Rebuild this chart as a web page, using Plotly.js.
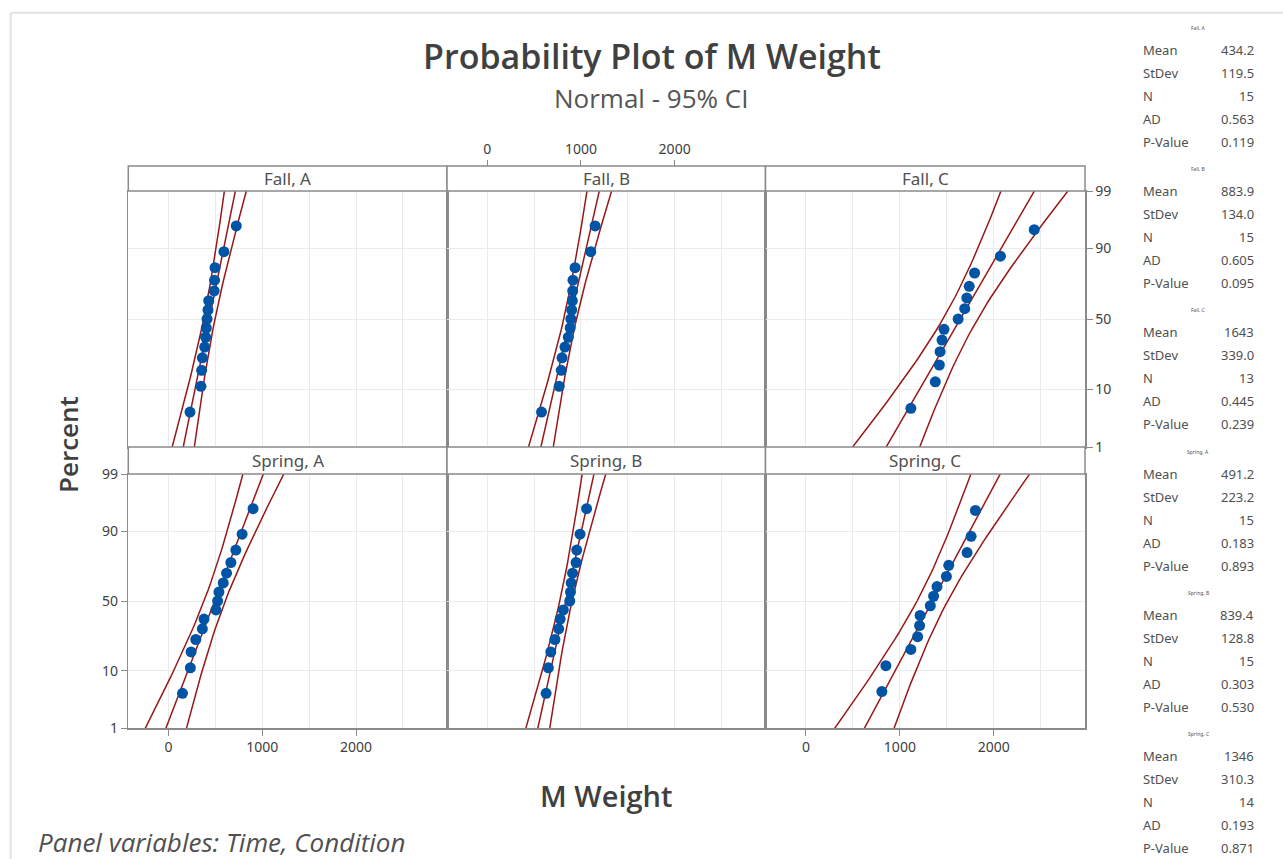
<!DOCTYPE html>
<html><head><meta charset="utf-8">
<script src="https://cdn.plot.ly/plotly-3.0.1.min.js"></script>
<style>html,body{margin:0;padding:0;background:#fff}#chart{width:1283px;height:859px}</style>
</head><body><div id="chart"></div>
<script>
// ---- data ----
const panelLabels = ['Fall, A','Fall, B','Fall, C','Spring, A','Spring, B','Spring, C'];
const fallA   = [228, 345, 352, 360, 385, 395, 402, 410, 420, 428, 486, 490, 495, 590, 722];
const fallB   = [579, 768, 790, 798, 829, 865, 885, 892, 901, 908, 912, 915, 937, 1105, 1151];
const fallC   = [1117, 1377, 1420, 1428, 1448, 1470, 1620, 1690, 1712, 1738, 1795, 2070, 2430];
const springA = [148, 232, 240, 290, 360, 378, 505, 523, 537, 583, 618, 664, 717, 784, 901];
const springB = [628, 652, 678, 722, 762, 778, 812, 880, 888, 895, 910, 948, 955, 990, 1060];
const springC = [808, 851, 1117, 1189, 1210, 1215, 1324, 1359, 1395, 1495, 1520, 1715, 1758, 1804];
const means   = [434.2, 883.9, 1643, 491.2, 839.4, 1346];
const stdevs  = [119.5, 134.0, 339.0, 223.2, 128.8, 310.3];
const counts  = [15, 15, 13, 15, 15, 14];
const adStats = ['0.563', '0.605', '0.445', '0.183', '0.303', '0.193'];
const pValues = ['0.119', '0.095', '0.239', '0.893', '0.530', '0.871'];
const percentTicks = [1, 10, 50, 90, 99];
const weightTicks = [0, 1000, 2000];
const weightMinorTicks = [500, 1500, 2500];
const panelData = [fallA, fallB, fallC, springA, springB, springC];

// ---- helpers ----
function invNorm(p){
  const a=[-3.969683028665376e+01,2.209460984245205e+02,-2.759285104469687e+02,1.383577518672690e+02,-3.066479806614716e+01,2.506628277459239e+00];
  const b=[-5.447609879822406e+01,1.615858368580409e+02,-1.556989798598866e+02,6.680131188771972e+01,-1.328068155288572e+01];
  const c=[-7.784894002430293e-03,-3.223964580411365e-01,-2.400758277161838e+00,-2.549732539343734e+00,4.374664141464968e+00,2.938163982698783e+00];
  const d=[7.784695709041462e-03,3.224671290700398e-01,2.445134137142996e+00,3.754408661907416e+00];
  const pl=0.02425, ph=1-pl; let q,r;
  if(p<pl){q=Math.sqrt(-2*Math.log(p));return (((((c[0]*q+c[1])*q+c[2])*q+c[3])*q+c[4])*q+c[5])/((((d[0]*q+d[1])*q+d[2])*q+d[3])*q+1);}
  if(p<=ph){q=p-0.5;r=q*q;return (((((a[0]*r+a[1])*r+a[2])*r+a[3])*r+a[4])*r+a[5])*q/(((((b[0]*r+b[1])*r+b[2])*r+b[3])*r+b[4])*r+1);}
  q=Math.sqrt(-2*Math.log(1-p));return -(((((c[0]*q+c[1])*q+c[2])*q+c[3])*q+c[4])*q+c[5])/((((d[0]*q+d[1])*q+d[2])*q+d[3])*q+1);
}

const W = 1283, H = 859;
const px = v => v / W;
const py = v => 1 - v / H;
const colX = [[128.3, 447], [447, 765.5], [765.5, 1085]];
const rowY = [[191, 447], [474, 728]];
const stripY = [[166, 191], [447, 474]];
const xRange = [-430, 2970];
const yRange = [invNorm(0.01), invNorm(0.99)];

const gridC = '#ebebeb', lineC = '#8a8a8a', textC = '#404040';
const FONT = 'Noto Sans, Open Sans, sans-serif';
const OS = 'Open Sans, sans-serif';
const dotC = '#0054A6', redC = '#981818';

const traces = [];
const layout = {
  width: W, height: H,
  margin: {l: 0, r: 0, t: 0, b: 0},
  paper_bgcolor: '#fff', plot_bgcolor: '#fff',
  showlegend: false,
  font: {family: FONT, color: textC, size: 12},
  title: {text: 'Probability Plot of M Weight', x: 652 / W, xanchor: 'center', y: py(57), yanchor: 'middle',
          yref: 'container', xref: 'container', font: {family: OS, size: 34, weight: 600, color: textC}},
  shapes: [], annotations: []
};

const lineGrid = [];
for (let k = -28; k <= 28; k++) lineGrid.push(k / 10);

panelData.forEach((vals, i) => {
  const col = i % 3, row = Math.floor(i / 3);
  const xa = 'x' + (i + 1), ya = 'y' + (i + 1);
  const n = vals.length;
  const sorted = vals.slice().sort((a, b) => a - b);
  const zs = sorted.map((_, j) => invNorm((j + 1 - 0.3) / (n + 0.4)));
  const mu = means[i], sd = stdevs[i], N = counts[i];
  const fit = [], lo = [], hi = [];
  lineGrid.forEach(z => {
    const xp = mu + z * sd;
    const se = sd / Math.sqrt(N) * Math.sqrt(1 + z * z / 2);
    fit.push(xp); lo.push(xp - 1.96 * se); hi.push(xp + 1.96 * se);
  });
  [lo, fit, hi].forEach(arr => traces.push({
    x: arr, y: lineGrid, xaxis: xa, yaxis: ya, mode: 'lines', type: 'scatter',
    line: {color: redC, width: 1.5}, hoverinfo: 'skip'
  }));
  traces.push({
    x: sorted, y: zs, xaxis: xa, yaxis: ya, mode: 'markers', type: 'scatter',
    marker: {color: dotC, size: 11}, hoverinfo: 'skip', cliponaxis: false
  });

  const showX = (i === 3 || i === 5);
  layout['xaxis' + (i + 1)] = {
    domain: [px(colX[col][0]), px(colX[col][1])], anchor: ya, range: xRange,
    tickmode: 'array', tickvals: weightTicks, ticktext: weightTicks.map(String),
    showticklabels: showX, ticks: showX ? 'outside' : '', ticklen: 6, tickcolor: lineC, tickwidth: 1,
    tickfont: {size: 14, color: textC, family: FONT},
    showgrid: true, gridcolor: gridC, gridwidth: 1,
    minor: {tickmode: 'array', tickvals: weightMinorTicks, showgrid: true, gridcolor: gridC, gridwidth: 1, ticks: ''},
    zeroline: false, showline: true, mirror: true, linecolor: lineC, linewidth: 1.5, fixedrange: true
  };
  const showY = (i === 3 || i === 2);
  layout['yaxis' + (i + 1)] = {
    domain: [py(rowY[row][1]), py(rowY[row][0])], anchor: xa, range: yRange,
    tickmode: 'array', tickvals: percentTicks.map(p => invNorm(p / 100)), ticktext: percentTicks.map(String),
    side: i === 2 ? 'right' : 'left',
    showticklabels: showY, ticks: showY ? 'outside' : '', ticklen: 6, tickcolor: lineC, tickwidth: 1,
    tickfont: {size: 14, color: textC, family: FONT},
    showgrid: true, gridcolor: gridC, gridwidth: 1,
    zeroline: false, showline: true, mirror: true, linecolor: lineC, linewidth: 1.5, fixedrange: true
  };
});

// top axis (above the first-row strips, over column 2)
layout.xaxis7 = {
  overlaying: 'x2', anchor: 'free', position: py(stripY[0][0]), side: 'top', range: xRange,
  tickmode: 'array', tickvals: weightTicks, ticktext: weightTicks.map(String),
  ticks: 'outside', ticklen: 6, tickcolor: lineC, showline: false, showgrid: false, zeroline: false,
  tickfont: {size: 14, color: textC, family: FONT}, fixedrange: true
};
traces.push({x: [null], y: [null], xaxis: 'x7', yaxis: 'y2', mode: 'markers', type: 'scatter', hoverinfo: 'skip'});

// strips
[0, 1].forEach(row => {
  [0, 1, 2].forEach(col => {
    const i = row * 3 + col;
    layout.shapes.push({type: 'rect', xref: 'paper', yref: 'paper',
      x0: px(colX[col][0]), x1: px(colX[col][1]), y0: py(stripY[row][1]), y1: py(stripY[row][0]),
      line: {color: lineC, width: 1.5}, fillcolor: '#ffffff', layer: 'above'});
    layout.annotations.push({text: panelLabels[i], xref: 'paper', yref: 'paper',
      x: px((colX[col][0] + colX[col][1]) / 2), y: py((stripY[row][0] + stripY[row][1]) / 2),
      xanchor: 'center', yanchor: 'middle', showarrow: false,
      font: {size: 17, color: '#505050', family: FONT}});
  });
});

// outer frame
layout.shapes.push({type: 'line', xref: 'paper', yref: 'paper', x0: px(10.7), x1: 1, y0: py(12.7), y1: py(12.7), line: {color: '#e2e2e2', width: 2}});
layout.shapes.push({type: 'line', xref: 'paper', yref: 'paper', x0: px(10.7), x1: px(10.7), y0: py(12.7), y1: 0, line: {color: '#e2e2e2', width: 2}});

// subtitle, axis titles, footnote
const ann = (text, x, y, opts) => layout.annotations.push(Object.assign({text, xref: 'paper', yref: 'paper', x: px(x), y: py(y), showarrow: false, xanchor: 'center', yanchor: 'middle'}, opts));
ann('Normal - 95% CI', 651, 98, {font: {size: 26, color: '#555555', family: OS}});
ann('Percent', 68, 445, {textangle: -90, font: {size: 26, weight: 600, color: textC, family: OS}});
ann('M Weight', 606, 795, {font: {size: 29, weight: 600, color: textC, family: OS}});
ann('Panel variables: Time, Condition', 36, 842, {xanchor: 'left', font: {size: 26, style: 'italic', color: '#505050', family: OS}});

// statistics table
const statNames = ['Mean', 'StDev', 'N', 'AD', 'P-Value'];
panelLabels.forEach((lab, k) => {
  const hy = 28 + 141.2 * k;
  ann(lab, 1198, hy, {font: {size: 5, color: '#505050', family: FONT}});
  const vals = [means[k].toPrecision(4), stdevs[k].toFixed(1), String(counts[k]), adStats[k], pValues[k]];
  statNames.forEach((nm, j) => {
    const y = hy + 22 + 23 * j;
    ann(nm, 1141, y, {xanchor: 'left', font: {size: 13, color: '#505050', family: FONT}});
    ann(vals[j], 1256, y, {xanchor: 'right', font: {size: 13, color: '#505050', family: FONT}});
  });
});

Plotly.newPlot('chart', traces, layout, {staticPlot: true, displayModeBar: false});
</script>
</body></html>
